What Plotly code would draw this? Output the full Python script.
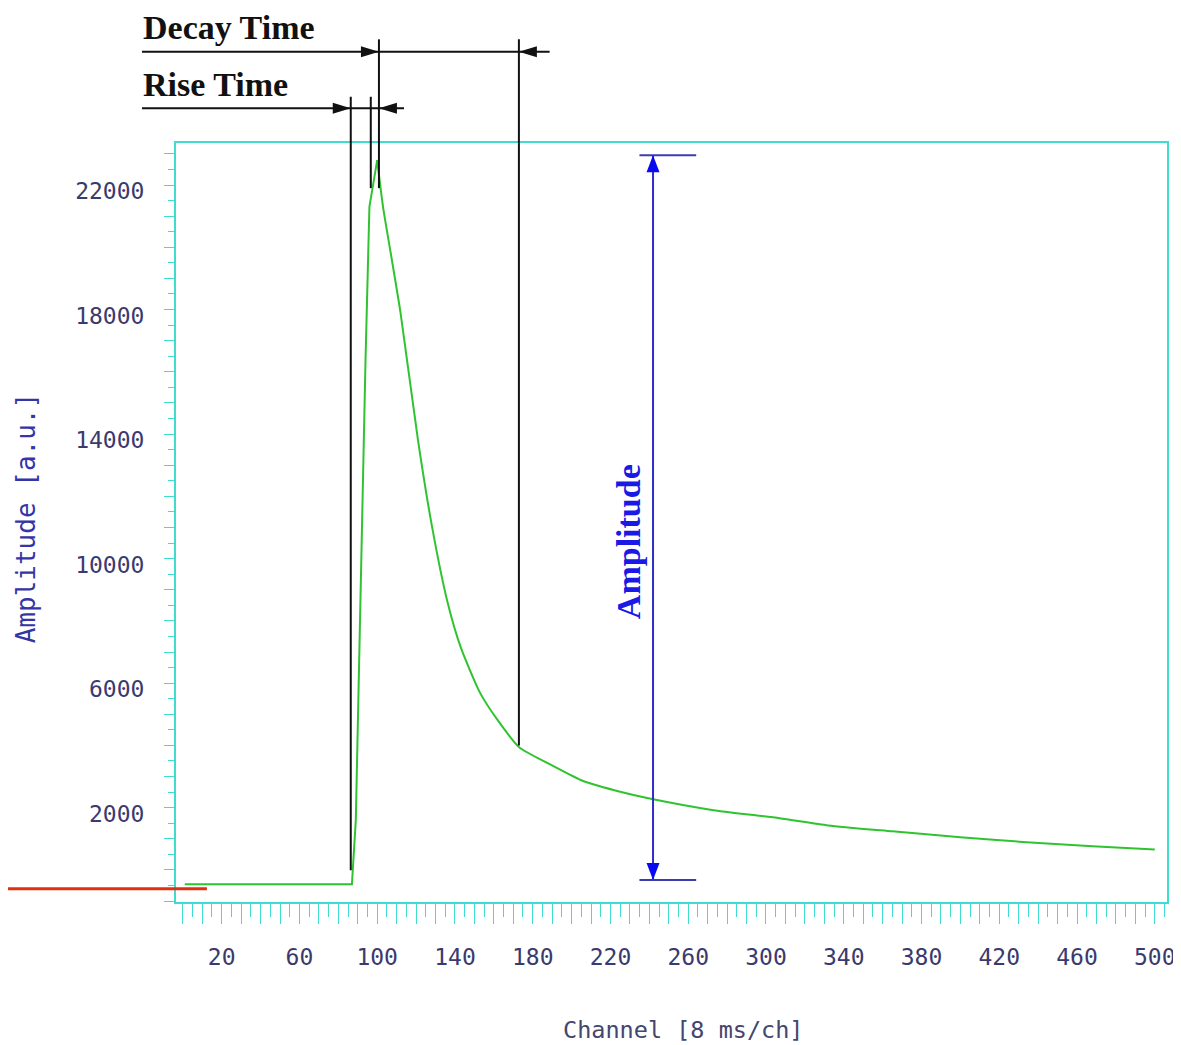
import plotly.graph_objects as go

# ---------------- data ----------------
channels = [1, 87, 89, 92, 94, 96, 100, 103, 107, 112, 121, 128, 136, 143, 153,
            162, 173, 188, 205, 222, 242, 273, 307, 332, 365, 400, 434, 468, 500]
amplitude = [-460, -460, 1600, 10600, 16400, 21300, 22800, 21300, 19800, 17900,
             13800, 11100, 8650, 7150, 5680, 4810, 3940, 3420, 2880, 2560, 2270,
             1920, 1660, 1430, 1240, 1050, 890, 760, 660]

x_tick_labels = [20, 60, 100, 140, 180, 220, 260, 300, 340, 380, 420, 460, 500]
y_tick_labels = [2000, 6000, 10000, 14000, 18000, 22000]

# annotation marker lines (channel, top value, bottom value)
marker_ch = [86.4, 96.7, 100.9, 172.9]
marker_top = [24835, 24835, 26680, 26680]
marker_bottom = [-13, 21900, 21900, 4000]

decay_row = 26282
rise_row = 24463
label_left_ch = -21.0
decay_right_ch = 188.7
rise_right_ch = 113.8

amp_ch = 241.9
amp_cap = [234.9, 264.1]
amp_top = 22953
amp_bottom = -325

X_RANGE = [-3.5, 506.3]
Y_RANGE = [-1030, 23350]


def xp(c):
    return (c - X_RANGE[0]) / (X_RANGE[1] - X_RANGE[0])


def yp(v):
    return (v - Y_RANGE[0]) / (Y_RANGE[1] - Y_RANGE[0])


CYAN = "#3fdccf"
GREEN = "#2fc42f"
TICKFONT = dict(family="DejaVu Sans Mono", size=23, color="#3a3a6e")

peak_idx = amplitude.index(max(amplitude))
fig = go.Figure()
# baseline and rising edge
fig.add_trace(go.Scatter(x=channels[:peak_idx + 1], y=amplitude[:peak_idx + 1], mode="lines",
                         line=dict(color=GREEN, width=2), showlegend=False))
# decay tail
fig.add_trace(go.Scatter(x=channels[peak_idx:], y=amplitude[peak_idx:], mode="lines",
                         line=dict(color=GREEN, width=2, shape="spline", smoothing=0.6),
                         showlegend=False))

xt_vals = list(range(0, 501, 10))
xt_text = [str(v) if v in x_tick_labels else "" for v in xt_vals]
yt_vals = list(range(-1000, 23001, 1000))
yt_text = [str(v) if v in y_tick_labels else "" for v in yt_vals]

fig.update_xaxes(range=X_RANGE, showgrid=False, zeroline=False,
                 showline=True, linecolor=CYAN, linewidth=2, mirror=True,
                 tickmode="array", tickvals=xt_vals, ticktext=xt_text,
                 ticks="outside", ticklen=20, tickcolor=CYAN, tickwidth=1,
                 tickfont=TICKFONT, ticklabelstandoff=13,
                 minor=dict(dtick=5, tick0=0, ticklen=13, tickcolor=CYAN,
                            ticks="outside", tickwidth=1))
fig.update_yaxes(range=Y_RANGE, showgrid=False, zeroline=False,
                 showline=True, linecolor=CYAN, linewidth=2, mirror=True,
                 tickmode="array", tickvals=yt_vals, ticktext=yt_text,
                 ticks="outside", ticklen=10, tickcolor=CYAN, tickwidth=1,
                 tickfont=TICKFONT, ticklabelshift=6, ticklabelstandoff=15,
                 minor=dict(dtick=500, tick0=0, ticklen=6, tickcolor=CYAN,
                            ticks="outside", tickwidth=1))

shapes = []
BLACK = "#111111"
# vertical marker lines
for c, t, b in zip(marker_ch, marker_top, marker_bottom):
    shapes.append(dict(type="line", xref="paper", yref="paper",
                       x0=xp(c), x1=xp(c), y0=yp(b), y1=yp(t),
                       line=dict(color=BLACK, width=2)))
# horizontal rows
shapes.append(dict(type="line", xref="paper", yref="paper",
                   x0=xp(label_left_ch), x1=xp(decay_right_ch),
                   y0=yp(decay_row), y1=yp(decay_row),
                   line=dict(color=BLACK, width=2)))
shapes.append(dict(type="line", xref="paper", yref="paper",
                   x0=xp(label_left_ch), x1=xp(rise_right_ch),
                   y0=yp(rise_row), y1=yp(rise_row),
                   line=dict(color=BLACK, width=2)))

RIGHT_HEAD = "M0,0 L-18,5.5 L-18,-5.5 Z"
LEFT_HEAD = "M0,0 L18,5.5 L18,-5.5 Z"


def head(c, v, path, color):
    return dict(type="path", xref="paper", yref="paper",
                xsizemode="pixel", ysizemode="pixel",
                xanchor=xp(c), yanchor=yp(v), path=path,
                fillcolor=color, line=dict(width=0))


shapes.append(head(marker_ch[2], decay_row, RIGHT_HEAD, BLACK))
shapes.append(head(marker_ch[3], decay_row, LEFT_HEAD, BLACK))
shapes.append(head(marker_ch[0], rise_row, RIGHT_HEAD, BLACK))
shapes.append(head(marker_ch[2], rise_row, LEFT_HEAD, BLACK))

# amplitude arrow (blue)
BLUE = "#2e2ec4"
shapes.append(dict(type="line", xref="x", yref="y", x0=amp_ch, x1=amp_ch,
                   y0=amp_bottom, y1=amp_top, line=dict(color=BLUE, width=2)))
for v in (amp_top, amp_bottom):
    shapes.append(dict(type="line", xref="x", yref="y", x0=amp_cap[0], x1=amp_cap[1],
                       y0=v, y1=v, line=dict(color="#3c3cb0", width=2)))
UP_HEAD = "M0,0 L-6.5,-17 L6.5,-17 Z"
DOWN_HEAD = "M0,0 L-6.5,17 L6.5,17 Z"
shapes.append(dict(type="path", xref="x", yref="y", xsizemode="pixel", ysizemode="pixel",
                   xanchor=amp_ch, yanchor=amp_top, path=UP_HEAD,
                   fillcolor="#0a0af0", line=dict(width=0)))
shapes.append(dict(type="path", xref="x", yref="y", xsizemode="pixel", ysizemode="pixel",
                   xanchor=amp_ch, yanchor=amp_bottom, path=DOWN_HEAD,
                   fillcolor="#0a0af0", line=dict(width=0)))

# red line at left bottom
shapes.append(dict(type="line", xref="paper", yref="paper",
                   x0=xp(-96.0), x1=xp(12.4), y0=yp(-601), y1=yp(-601),
                   line=dict(color="#e0300f", width=3)))

annotations = [
    dict(text="Decay Time", xref="paper", yref="paper", x=xp(-21.5), y=yp(27076),
         xanchor="left", yanchor="middle", showarrow=False,
         font=dict(family="Liberation Serif", size=34, color="#111111", weight="bold")),
    dict(text="Rise Time", xref="paper", yref="paper", x=xp(-21.5), y=yp(25244),
         xanchor="left", yanchor="middle", showarrow=False,
         font=dict(family="Liberation Serif", size=34, color="#111111", weight="bold")),
    dict(text="Amplitude", xref="x", yref="y", x=229.0, y=10560, textangle=-90,
         xanchor="center", yanchor="middle", showarrow=False,
         font=dict(family="Liberation Serif", size=34, color="#1a1ae6", weight="bold")),
    dict(text="Channel [8 ms/ch]", xref="paper", yref="paper", x=0.512, y=-0.169,
         xanchor="center", yanchor="middle", showarrow=False,
         font=dict(family="DejaVu Sans Mono", size=23.5, color="#45456e")),
    dict(text="Amplitude [a.u.]", xref="paper", yref="paper", x=-0.151, y=0.506,
         textangle=-90, xanchor="center", yanchor="middle", showarrow=False,
         font=dict(family="DejaVu Sans Mono", size=26, color="#3535a5")),
]

fig.update_layout(width=1179, height=1037,
                  margin=dict(l=168, r=14, t=135, b=143),
                  paper_bgcolor="white", plot_bgcolor="white",
                  shapes=shapes, annotations=annotations, showlegend=False)

fig.write_html("out.html")
